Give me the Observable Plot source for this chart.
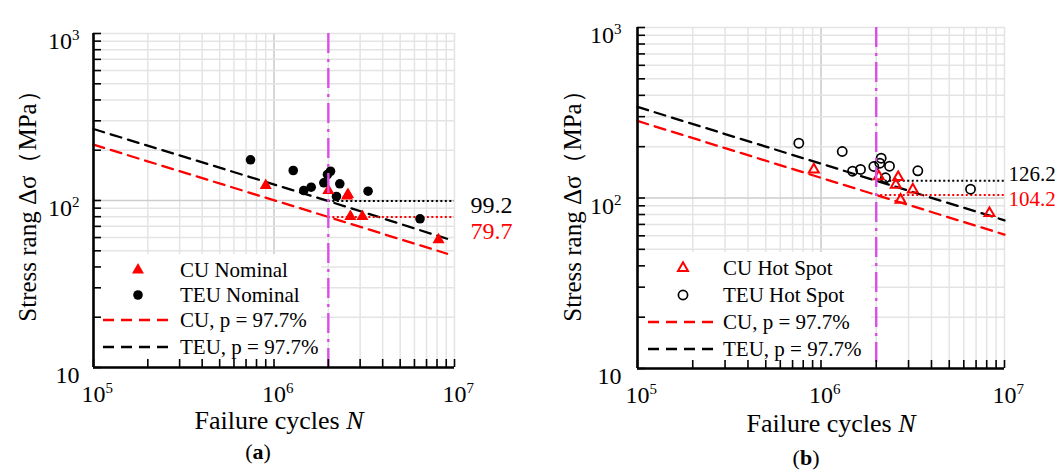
<!DOCTYPE html>
<html>
<head>
<meta charset="utf-8">
<script src="https://cdn.jsdelivr.net/npm/d3@7"></script>
<script src="https://cdn.jsdelivr.net/npm/@observablehq/plot@0.6"></script>
<style>
  html, body { margin: 0; padding: 0; background: #fff; }
  body { width: 1061px; height: 473px; overflow: hidden; position: relative;
         font-family: "Liberation Serif", "Times New Roman", serif; color: #000; }
  .panel { position: absolute; top: 0; }
  .ylab { position: absolute; white-space: nowrap; font-size: 25px;
          transform: translate(-50%, -50%) rotate(-90deg); }
  .xlab { position: absolute; white-space: nowrap; font-size: 26px;
          transform: translate(-50%, -50%); }
  .cap { position: absolute; white-space: nowrap; font-size: 22px;
         transform: translate(-50%, -50%); }
</style>
</head>
<body>
<div id="pa" class="panel" style="left:0px"></div>
<div id="pb" class="panel" style="left:530px"></div>
<div class="ylab" style="left:27px; top:200px">Stress rang Δσ（MPa）</div>
<div class="ylab" style="left:572px; top:200px">Stress rang Δσ（MPa）</div>
<div class="xlab" style="left:279px; top:421px">Failure cycles <i>N</i></div>
<div class="xlab" style="left:831px; top:424px">Failure cycles <i>N</i></div>
<div class="cap" style="left:258px; top:452px">(<b>a</b>)</div>
<div class="cap" style="left:806px; top:458px">(<b>b</b>)</div>
<script>
// ---------- axes / ticks ----------
const xDomain = [1e5, 1e7];
const yDomain = [10, 1000];
const xDecades = [1e5, 1e6, 1e7];
const yDecades = [10, 100, 1000];
const xTickLabels = ["10^5", "10^6", "10^7"];
const yTickLabels = ["10", "10^2", "10^3"];
const refN = 2e6;      // 2 million cycles reference
const endN = 1e7;

// ---------- panel (a): nominal stress ----------
const aCU_N  = [9.0e5, 2.0e6, 2.54e6, 2.57e6, 2.65e6, 3.09e6, 8.16e6];
const aCU_S  = [123, 114.8, 106.5, 108.6, 80.2, 80.2, 58.2];
const aTEU_N = [7.41e5, 1.278e6, 1.462e6, 1.607e6, 1.888e6, 1.978e6, 2.056e6, 2.218e6, 2.315e6, 3.32e6, 6.44e6];
const aTEU_S = [175.3, 151.2, 114.8, 120.1, 127.6, 143.1, 149.7, 105.7, 125.9, 113.7, 77.7];
const aLineN = [1e5, 2e6, 9.1e6];
const aCUline_S  = [216, 79.7, 48.0];
const aTEUline_S = [268, 99.2, 59.0];
const aFat = {TEU: 99.2, CU: 79.7};
const aLegend = ["CU Nominal", "TEU Nominal", "CU, p = 97.7%", "TEU, p = 97.7%"];

// ---------- panel (b): hot spot stress ----------
const bCU_N  = [9.14e5, 2.065e6, 2.556e6, 2.634e6, 2.713e6, 3.164e6, 8.28e6];
const bCU_S  = [146.9, 133.7, 119.5, 132.4, 97.6, 112.1, 81.4];
const bTEU_N = [7.57e5, 1.305e6, 1.486e6, 1.642e6, 1.94e6, 2.091e6, 2.128e6, 2.246e6, 2.362e6, 3.37e6, 6.53e6];
const bTEU_S = [209.6, 187.4, 143.6, 147.0, 153.0, 160.0, 171.2, 131.4, 153.6, 144.4, 112.6];
const bLineN = [1e5, 2e6, 1e7];
const bCUline_S  = [283, 104.2, 61.0];
const bTEUline_S = [342, 126.2, 74.0];
const bFat = {TEU: 126.2, CU: 104.2};
const bLegend = ["CU Hot Spot", "TEU Hot Spot", "CU, p = 97.7%", "TEU, p = 97.7%"];

// ---------- helpers ----------
const zip = (xs, ys) => xs.map((x, i) => ({N: x, S: ys[i]}));
const mult = [1, 2, 3, 4, 5, 6, 7, 8, 9];
const xAllTicks = [1e5, 1e6].flatMap(d => mult.map(m => d * m)).concat([1e7]);
const yAllTicks = [10, 100].flatMap(d => mult.map(m => d * m)).concat([1000]);
const xMinorGrid = xAllTicks.filter(d => d !== 1e6);
const yMinorGrid = yAllTicks.filter(d => d !== 100);
const RED = "#ff0000", MAG = "#d84fe3", NS = "http://www.w3.org/2000/svg";
const FONT = "Liberation Serif, Times New Roman, serif";

function makePanel(cfg) {
  const cu = zip(cfg.cuN, cfg.cuS), teu = zip(cfg.teuN, cfg.teuS);
  const cuL = zip(cfg.lineN, cfg.cuLine), teuL = zip(cfg.lineN, cfg.teuLine);
  return Plot.plot({
    width: cfg.width, height: 410,
    marginLeft: cfg.ml, marginRight: cfg.mr, marginTop: cfg.mt, marginBottom: cfg.mb,
    x: {type: "log", domain: xDomain},
    y: {type: "log", domain: yDomain},
    style: {fontFamily: FONT, fontSize: "24px", background: "transparent", overflow: "visible"},
    marks: [
      Plot.ruleX(xMinorGrid, {stroke: "#e4e4e4", strokeWidth: 1.5}),
      Plot.ruleX([1e6], {stroke: "#cdcdcd", strokeWidth: 1.6}),
      Plot.ruleY(yMinorGrid, {stroke: "#e4e4e4", strokeWidth: 1.5}),
      Plot.ruleY([100], {stroke: "#cdcdcd", strokeWidth: 1.6}),
      Plot.line(cuL, {x: "N", y: "S", stroke: RED, strokeWidth: 2.3, strokeDasharray: "11,7"}),
      Plot.line(teuL, {x: "N", y: "S", stroke: "#000", strokeWidth: 2.3, strokeDasharray: "11,7"}),
      Plot.ruleY([cfg.fat.TEU], {x1: refN, x2: endN, stroke: "#000", strokeWidth: 2, strokeDasharray: "2,2.5"}),
      Plot.ruleY([cfg.fat.CU], {x1: refN, x2: endN, stroke: RED, strokeWidth: 2, strokeDasharray: "2,2.5"}),
      cfg.open
        ? Plot.dot(teu, {x: "N", y: "S", r: 4.6, stroke: "#000", strokeWidth: 1.7, fill: "none"})
        : Plot.dot(teu, {x: "N", y: "S", r: 4.8, fill: "#000", stroke: "none"}),
      cfg.open
        ? Plot.dot(cu, {x: "N", y: "S", symbol: "triangle", r: 3.7, stroke: RED, strokeWidth: 2, fill: "none"})
        : Plot.dot(cu, {x: "N", y: "S", symbol: "triangle", r: 4.5, fill: RED, stroke: "none"}),
      Plot.ruleX([refN], {stroke: MAG, strokeWidth: 2.4, strokeDasharray: "20,6,3,6"}),
      Plot.text([String(cfg.fat.TEU)], {x: endN, y: [cfg.fat.TEU], text: d => d, textAnchor: "start", dx: cfg.tdx, dy: cfg.dyTEU, fill: "#000", fontSize: cfg.afs}),
      Plot.text([String(cfg.fat.CU)], {x: endN, y: [cfg.fat.CU], text: d => d, textAnchor: "start", dx: cfg.tdx, dy: cfg.dyCU, fill: RED, fontSize: cfg.afs}),
      // inward ticks
      Plot.axisY({ticks: yAllTicks, tickSize: -8, fill: "none", label: null, strokeWidth: 1.6}),
      Plot.axisX({ticks: xAllTicks, tickSize: -8, fill: "none", label: null, strokeWidth: 1.6}),
      // tick labels
      Plot.axisY({ticks: yDecades, tickSize: 0, tickPadding: cfg.ypad, dy: 8, label: null, fontSize: 24,
                  tickFormat: d => yTickLabels[yDecades.indexOf(d)]}),
      Plot.axisX({ticks: xDecades, tickSize: 0, tickPadding: 17, label: null, fontSize: 24,
                  tickFormat: d => xTickLabels[xDecades.indexOf(d)]}),
      // axis lines
      Plot.ruleX([xDomain[0]], {stroke: "#000", strokeWidth: 2.6}),
      Plot.ruleY([yDomain[0]], {stroke: "#000", strokeWidth: 2.6})
    ]
  });
}

function supTicks(svg) {
  svg.querySelectorAll('g[aria-label="x-axis tick label"] text, g[aria-label="y-axis tick label"] text').forEach(t => {
    const isX = t.closest('g[aria-label="x-axis tick label"]') !== null;
    const s = t.textContent;
    const [b, e] = s.split("^");
    t.textContent = "";
    const t1 = document.createElementNS(NS, "tspan");
    t1.textContent = b;
    t.appendChild(t1);
    if (e) {
      const t2 = document.createElementNS(NS, "tspan");
      t2.textContent = e;
      t2.setAttribute("font-size", "15");
      t2.setAttribute("dy", "-0.6em");
      t.appendChild(t2);
    }
    if (isX) { t.setAttribute("text-anchor", "start"); t1.setAttribute("dx", "-0.5em"); }
  });
}

function addLegend(svg, L) {
  const gs = svg.querySelectorAll(":scope > g");
  const rect = document.createElementNS(NS, "rect");
  rect.setAttribute("x", L.box[0]); rect.setAttribute("y", L.box[1]);
  rect.setAttribute("width", L.box[2]); rect.setAttribute("height", L.box[3]);
  rect.setAttribute("fill", "#fff");
  svg.insertBefore(rect, gs[4]);
  const g = d3.select(svg).append("g")
    .attr("font-family", FONT).attr("font-size", 21).attr("text-anchor", "start");
  const tri = d3.symbol(d3.symbolTriangle, L.open ? 43 : 62)();
  g.append("path").attr("d", tri).attr("transform", `translate(${L.mx},${L.rows[0]})`)
    .attr("fill", L.open ? "none" : RED).attr("stroke", L.open ? RED : "none").attr("stroke-width", 2);
  g.append("circle").attr("cx", L.mx).attr("cy", L.rows[1]).attr("r", L.open ? 4.6 : 4.8)
    .attr("fill", L.open ? "none" : "#000").attr("stroke", L.open ? "#000" : "none").attr("stroke-width", 1.7);
  [[RED, 2], ["#000", 3]].forEach(([c, k]) => {
    g.append("line").attr("x1", L.lx[0]).attr("x2", L.lx[1]).attr("y1", L.rows[k]).attr("y2", L.rows[k])
      .attr("stroke", c).attr("stroke-width", 2.3).attr("stroke-dasharray", "11,7");
  });
  L.labels.forEach((s, i) => {
    g.append("text").attr("x", L.tx).attr("y", L.rows[i]).attr("dy", "0.35em")
      .attr("text-anchor", "start").attr("fill", "#000").text(s);
  });
}

// ---------- build ----------
const A = makePanel({width: 530, ml: 93, mr: 76, mt: 33, mb: 43, ypad: 14, tdx: 16, dyTEU: 4, dyCU: 14, afs: 24,
  cuN: aCU_N, cuS: aCU_S, teuN: aTEU_N, teuS: aTEU_S, lineN: aLineN, cuLine: aCUline_S, teuLine: aTEUline_S, fat: aFat, open: false});
const B = makePanel({width: 531, ml: 107, mr: 57, mt: 27, mb: 42, ypad: 16, tdx: 4, dyTEU: -7, dyCU: 4, afs: 21,
  cuN: bCU_N, cuS: bCU_S, teuN: bTEU_N, teuS: bTEU_S, lineN: bLineN, cuLine: bCUline_S, teuLine: bTEUline_S, fat: bFat, open: true});
document.getElementById("pa").appendChild(A);
document.getElementById("pb").appendChild(B);
supTicks(A); supTicks(B);
addLegend(A, {box: [95, 254, 226, 111], mx: 138, lx: [103, 172], tx: 180, rows: [270, 295, 320, 347], labels: aLegend, open: false});
addLegend(B, {box: [109, 252, 232, 114], mx: 153, lx: [118, 185], tx: 193, rows: [268, 295, 322, 349], labels: bLegend, open: true});
</script>
</body>
</html>
